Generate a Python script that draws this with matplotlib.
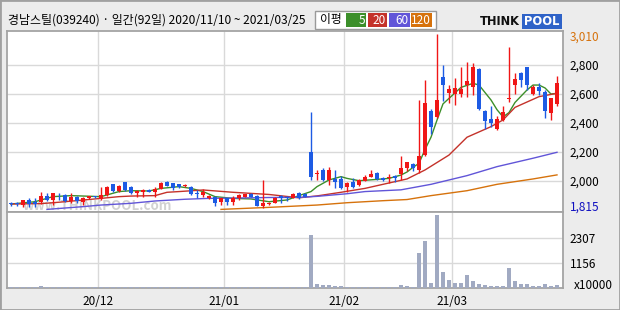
import matplotlib.pyplot as plt
from matplotlib.patches import Rectangle

# 종목 / 기간
title_text = '경남스틸(039240) · 일간(92일) 2020/11/10 ~ 2021/03/25'

# 일봉 시가/고가/저가/종가 (원)
opens = [1848, 1848, 1832, 1867, 1855, 1851, 1897, 1867, 1910, 1901,
         1862, 1885, 1855, 1878, 1894, 1871, 1901, 1975, 1929, 1989,
         1959, 1913, 1924, 1936, 1924, 1943, 1993, 1982, 1977, 1960,
         1959, 1913, 1901, 1883, 1890, 1855, 1878, 1855, 1878, 1890,
         1906, 1894, 1824, 1840, 1848, 1896, 1885, 1883, 1917, 1908,
         2200, 2046, 2074, 2005, 2012, 2012, 1959, 1994, 1970, 2000,
         2028, 2055, 2021, 2016, 2035, 2046, 2090, 2112, 2074, 2177,
         2483, 2437, 2718, 2603, 2598, 2596, 2660, 2644, 2771, 2481,
         2428, 2359, 2419, 2563, 2660, 2745, 2784, 2598, 2649, 2614,
         2465, 2529]
highs = [1855, 1852, 1870, 1878, 1878, 1920, 1913, 1915, 1915, 1905,
         1913, 1897, 1885, 1897, 1897, 1959, 1960, 1980, 1970, 1992,
         1962, 1936, 1940, 1940, 1959, 1990, 1997, 1985, 1980, 1975,
         1962, 1936, 1940, 1900, 1895, 1880, 1882, 1894, 1905, 1910,
         1912, 1898, 2005, 1855, 1885, 1900, 1894, 1915, 1920, 1912,
         2476, 2074, 2085, 2097, 2074, 2033, 1994, 2017, 2010, 2040,
         2074, 2058, 2025, 2046, 2040, 2170, 2130, 2125, 2557, 2695,
         2495, 3010, 2798, 2660, 2706, 2782, 2821, 2810, 2775, 2490,
         2515, 2446, 2515, 2925, 2745, 2752, 2788, 2660, 2672, 2626,
         2570, 2722]
lows = [1825, 1825, 1818, 1821, 1818, 1839, 1860, 1830, 1867, 1855,
        1844, 1848, 1832, 1875, 1880, 1868, 1895, 1925, 1925, 1930,
        1908, 1890, 1890, 1920, 1890, 1940, 1960, 1935, 1950, 1955,
        1900, 1878, 1890, 1875, 1828, 1832, 1832, 1832, 1870, 1885,
        1885, 1822, 1815, 1830, 1845, 1844, 1862, 1880, 1875, 1885,
        2005, 2005, 2000, 1970, 1947, 1940, 1924, 1952, 1965, 1995,
        2025, 2005, 2000, 1982, 1994, 2005, 2070, 2070, 2051, 2170,
        2322, 2430, 2552, 2538, 2522, 2580, 2580, 2591, 2488, 2354,
        2373, 2350, 2410, 2545, 2598, 2644, 2626, 2591, 2591, 2430,
        2419, 2515]
closes = [1839, 1839, 1867, 1840, 1839, 1894, 1867, 1913, 1906, 1862,
          1885, 1862, 1883, 1894, 1885, 1901, 1954, 1931, 1966, 1936,
          1913, 1931, 1936, 1924, 1940, 1982, 1966, 1952, 1954, 1970,
          1906, 1905, 1924, 1896, 1848, 1878, 1855, 1883, 1901, 1906,
          1890, 1828, 1844, 1845, 1883, 1883, 1880, 1908, 1883, 1890,
          2028, 2053, 2005, 2074, 1994, 1952, 1987, 1959, 2005, 2023,
          2046, 2012, 2005, 2028, 2021, 2090, 2126, 2085, 2170, 2538,
          2373, 2557, 2660, 2633, 2637, 2633, 2688, 2782, 2492, 2414,
          2400, 2423, 2476, 2572, 2701, 2695, 2660, 2649, 2621, 2483,
          2568, 2676]

# 거래량 (x10000)
volumes = [45, 45, 45, 45, 45, 97, 45, 45, 45, 45,
           45, 45, 45, 45, 45, 45, 45, 45, 45, 45,
           45, 45, 45, 45, 45, 45, 45, 45, 45, 45,
           45, 45, 45, 45, 45, 45, 45, 45, 45, 45,
           45, 45, 45, 45, 45, 45, 45, 45, 45, 45,
           2445, 189, 143, 143, 97, 97, 45, 45, 45, 45,
           45, 45, 45, 45, 45, 143, 97, 50, 1585, 2168,
           235, 3365, 741, 373, 235, 235, 603, 327, 189, 143,
           97, 97, 97, 893, 327, 189, 189, 97, 97, 189,
           97, 143]

# 이동평균선
ma5_idx = [0, 4, 7, 10, 15, 18, 20, 23, 25, 28, 30, 32, 34, 37, 40, 43, 46, 48, 50, 51,
           53, 55, 56, 58, 61, 63, 65, 66, 67, 68, 69, 70, 71, 72, 73, 75, 77, 78, 80, 81,
           82, 83, 84, 86, 87, 88, 89, 90, 91]
ma5 = [1839, 1855, 1890, 1897, 1890, 1925, 1931, 1929, 1947, 1959, 1947, 1925, 1890, 1878,
       1874, 1855, 1867, 1897, 1925, 1959, 2005, 2028, 2016, 2000, 2009, 2016, 2039, 2060,
       2092, 2120, 2215, 2300, 2418, 2530, 2568, 2644, 2672, 2660, 2557, 2490, 2440, 2470,
       2540, 2626, 2660, 2660, 2640, 2598, 2603]
ma20_idx = [0, 5, 7, 9, 15, 18, 20, 24, 26, 28, 32, 37, 43, 48, 51, 55, 59, 62, 66, 69,
            73, 76, 80, 82, 84, 88, 91]
ma20 = [1839, 1842, 1848, 1855, 1878, 1890, 1894, 1897, 1920, 1925, 1936, 1920, 1905, 1882,
        1895, 1920, 1947, 1975, 2012, 2074, 2177, 2300, 2373, 2419, 2506, 2580, 2603]
ma60_idx = [6, 12, 15, 20, 24, 29, 33, 37, 43, 48, 51, 56, 59, 65, 70, 76, 81, 87, 91]
ma60 = [1802, 1821, 1832, 1844, 1860, 1872, 1878, 1880, 1884, 1885, 1892, 1910, 1925, 1937,
        1975, 2035, 2097, 2155, 2196]
ma120_idx = [35, 43, 51, 56, 62, 66, 70, 76, 81, 87, 91]
ma120 = [1802, 1816, 1832, 1848, 1862, 1870, 1897, 1931, 1975, 2012, 2040]

month_idx = [15, 36, 56, 74]          # 각 달 첫 거래일
month_labels = ['20/12', '21/01', '21/02', '21/03']
price_ticks = [2000, 2200, 2400, 2600, 2800]
vol_ticks = [1156, 2307]
ma_names = ['5', '20', '60', '120']
ma_colors = ['#3c8f2a', '#c4322a', '#6155d8', '#d6720c']

plt.rcParams['font.family'] = ['Noto Sans CJK KR', 'DejaVu Sans']

W, H = 620, 310
fig = plt.figure(figsize=(6.2, 3.1), dpi=100, facecolor='#ececec')


def px_box(x0, y0, x1, y1):
    # 픽셀 좌표 -> figure 비율
    return [x0 / W, 1 - y1 / H, (x1 - x0) / W, (y1 - y0) / H]


ax = fig.add_axes(px_box(7, 31, 563, 212))
axv = fig.add_axes(px_box(7, 212, 563, 288), sharex=ax)

n = len(closes)
xs = list(range(n))
up = [c >= o for o, c in zip(opens, closes)]
cols = ['#f01616' if u else '#1d5be4' for u in up]
bottoms = [min(o, c) for o, c in zip(opens, closes)]
heights = [max(abs(c - o), 5) for o, c in zip(opens, closes)]

# 이동평균
for idx, vals, col in zip([ma5_idx, ma20_idx, ma60_idx, ma120_idx],
                          [ma5, ma20, ma60, ma120], ma_colors):
    ax.plot(idx, vals, color=col, lw=1.0, zorder=2)

# 캔들
ax.vlines(xs, lows, highs, colors=cols, lw=1.0, zorder=3)
ax.bar(xs, heights, bottom=bottoms, width=0.8, color=cols, lw=0, zorder=4)

ax.text(0.029, 0.035, 'www.THINKPOOL.com', transform=ax.transAxes, fontsize=9.5,
        fontweight='bold', color='#d2d2d2', va='center', ha='left', zorder=1)

ax.set_xlim(-0.667, 92)
ax.set_ylim(1784, 3033)
ax.set_facecolor('white')
ax.set_axisbelow(True)
ax.grid(True, color='#d9d9d9', lw=1)
ax.set_xticks([m - 0.5 for m in month_idx])
ax.tick_params(axis='x', length=0, labelbottom=False)
ax.yaxis.tick_right()
ax.set_yticks(price_ticks)
ax.set_yticklabels([f'{v:,}' for v in price_ticks])
ax.tick_params(axis='y', length=0, pad=5, labelsize=8.5)

hi, lo = max(highs), min(lows)
ax.annotate(f'{hi:,}', xy=(1, hi), xycoords=('axes fraction', 'data'), xytext=(5, -2),
            textcoords='offset points', va='center', ha='left', fontsize=8.5,
            color='#d6720c', annotation_clip=False)
ax.annotate(f'{lo:,}', xy=(1, lo), xycoords=('axes fraction', 'data'), xytext=(5, 0),
            textcoords='offset points', va='center', ha='left', fontsize=8.5,
            color='#1010c0', annotation_clip=False)

# 거래량
axv.bar(xs, volumes, width=0.8, color='#a1aac2', lw=0, zorder=3)
axv.set_ylim(0, 3480)
axv.set_facecolor('white')
axv.set_axisbelow(True)
axv.grid(True, color='#d9d9d9', lw=1)
axv.yaxis.tick_right()
axv.set_yticks(vol_ticks)
axv.set_yticklabels([str(v) for v in vol_ticks])
axv.tick_params(axis='y', length=0, pad=5, labelsize=8.5)
axv.set_xticks([m - 0.5 for m in month_idx])
axv.set_xticklabels(month_labels)
axv.tick_params(axis='x', length=0, pad=5, labelsize=8.5)
axv.annotate('x10000', xy=(1, 0), xycoords='axes fraction', xytext=(8, 1.5),
             textcoords='offset points', va='center', ha='left', fontsize=8.5,
             annotation_clip=False)

for a in (ax, axv):
    for s in a.spines.values():
        s.set_color('#a4a4a4')
        s.set_linewidth(1.3)

# 상단 제목 / 범례 / 로고
fig.text(8 / W, 1 - 20 / H, title_text, fontsize=8.6, va='center', ha='left')

tr = fig.transFigure
fig.patches.append(Rectangle((315 / W, 1 - 29 / H), 121 / W, 18 / H, transform=tr,
                             facecolor='white', edgecolor='#9a9a9a', lw=1))
fig.text(320 / W, 1 - 20 / H, '이평', fontsize=8.5, va='center', ha='left')
box_x = [346, 368, 389, 411]
box_w = [20, 19, 21, 21]
for bx, bw, name, col in zip(box_x, box_w, ma_names, ma_colors):
    fig.patches.append(Rectangle((bx / W, 1 - 27 / H), bw / W, 14 / H, transform=tr,
                                 facecolor=col, edgecolor='none'))
    fig.text((bx + bw - 1) / W, 1 - 20 / H, name, fontsize=8.5, color='white',
             va='center', ha='right')

fig.text(520 / W, 1 - 21.5 / H, 'THINK', fontsize=8.3, fontweight='bold',
         color='#111111', va='center', ha='right', family='DejaVu Sans')
fig.patches.append(Rectangle((522 / W, 1 - 29 / H), 40 / W, 15 / H, transform=tr,
                             facecolor='#2f63c8', edgecolor='none'))
fig.text(542 / W, 1 - 21.5 / H, 'POOL', fontsize=8.3, fontweight='bold',
         color='white', va='center', ha='center', family='DejaVu Sans')

fig.patches.append(Rectangle((0, 0), 1, 1, transform=tr, fill=False,
                             edgecolor='#a0a0a0', lw=2))

fig.savefig('out.png', dpi=100, facecolor=fig.get_facecolor())
